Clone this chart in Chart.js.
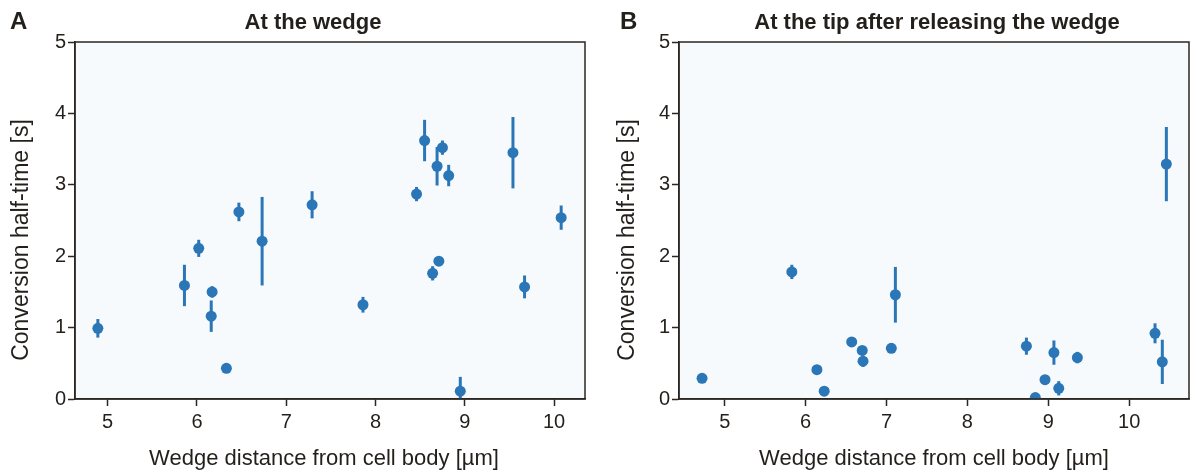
<!DOCTYPE html>
<html>
<head>
<meta charset="utf-8">
<script src="https://cdn.jsdelivr.net/npm/chart.js@4/dist/chart.umd.min.js"></script>
<style>
  body { margin: 0; background: #fff; }
  #wrap { position: relative; width: 1190px; height: 476px; }
  .panel { position: absolute; top: 0; height: 476px; width: 595px; }
</style>
</head>
<body>
<div id="wrap">
  <div class="panel" style="left:0"><canvas id="chartA" width="595" height="476"></canvas></div>
  <div class="panel" style="left:595px"><canvas id="chartB" width="595" height="476"></canvas></div>
</div>
<script>
// panel A - at the wedge
var distA = [4.89, 5.86, 6.02, 6.17, 6.16, 6.33, 6.47, 6.73, 7.29, 7.86, 8.46, 8.55, 8.75, 8.69, 8.82, 8.64, 8.71, 8.95, 9.54, 9.67, 10.08];
var halfA = [0.99, 1.59, 2.11, 1.50, 1.16, 0.43, 2.62, 2.21, 2.72, 1.32, 2.87, 3.62, 3.52, 3.26, 3.13, 1.76, 1.93, 0.11, 3.45, 1.57, 2.54];
var errA  = [0.13, 0.29, 0.12, 0.08, 0.22, 0.03, 0.13, 0.62, 0.19, 0.11, 0.10, 0.29, 0.10, 0.27, 0.15, 0.10, 0.05, 0.20, 0.50, 0.16, 0.17];

// panel B - at the tip after releasing the wedge
var distB = [4.72, 5.83, 6.14, 6.23, 6.57, 6.70, 6.71, 7.06, 7.11, 8.73, 8.84, 8.96, 9.07, 9.13, 9.36, 10.32, 10.41, 10.46];
var halfB = [0.29, 1.78, 0.41, 0.11, 0.80, 0.68, 0.53, 0.71, 1.46, 0.74, 0.02, 0.27, 0.65, 0.15, 0.58, 0.92, 0.52, 3.29];
var errB  = [0.02, 0.10, 0.03, 0.02, 0.03, 0.05, 0.08, 0.02, 0.39, 0.12, 0.03, 0.04, 0.17, 0.10, 0.08, 0.14, 0.31, 0.52];

var xTicks = [5, 6, 7, 8, 9, 10];
var yTicks = [0, 1, 2, 3, 4, 5];

var blue = "#2a76b6";
var ink = "#2b2620";
var fontFam = "'Liberation Sans', Arial, Helvetica, sans-serif";

//error bars + frame + texts
var panelPlugin = {
    id: "panel",
    beforeDraw: function(chart){
        var a = chart.chartArea, c = chart.ctx;
        c.save();
        c.fillStyle = "#f7fafd";
        c.fillRect(a.left, a.top, a.right - a.left, a.bottom - a.top);
        c.restore();
    },
    beforeDatasetsDraw: function(chart){
        var o = chart.options.plugins.panel;
        var a = chart.chartArea, c = chart.ctx;
        var xs = chart.scales.x, ys = chart.scales.y;
        c.save();
        c.beginPath();
        c.rect(a.left, a.top, a.right - a.left, a.bottom - a.top);
        c.clip();
        c.strokeStyle = blue;
        c.lineWidth = 3;
        for (var i = 0; i < o.dist.length; i++){
            var px = xs.getPixelForValue(o.dist[i]);
            c.beginPath();
            c.moveTo(px, ys.getPixelForValue(o.half[i] - o.err[i]));
            c.lineTo(px, ys.getPixelForValue(o.half[i] + o.err[i]));
            c.stroke();
        }
        c.restore();
    },
    afterDraw: function(chart){
        var o = chart.options.plugins.panel;
        var a = chart.chartArea, c = chart.ctx;
        c.save();
        c.strokeStyle = ink;
        c.lineWidth = 1.5;
        c.strokeRect(a.left, a.top, a.right - a.left, a.bottom - a.top);
        c.fillStyle = "#231f1b";
        c.textBaseline = "alphabetic";
        c.font = "bold 24px " + fontFam;
        c.textAlign = "left";
        c.fillText(o.letter, o.letterX, 29);
        c.font = "bold 22px " + fontFam;
        c.textAlign = "center";
        c.fillText(o.title, o.titleX, 29);
        c.font = "22px " + fontFam;
        c.fillText("Wedge distance from cell body [\u00b5m]", (a.left + a.right) / 2 + o.xLabelShift, 465);
        c.font = "23px " + fontFam;
        c.translate(o.yLabelX, 240);
        c.rotate(-Math.PI / 2);
        c.textBaseline = "middle";
        c.fillText("Conversion half-time [s]", 0, 0);
        c.restore();
    }
};

function makePanel(id, dist, half, err, xmin, xmax, yWidth, padRight, letter, letterX, title, titleX, yLabelX, xLabelShift){
    var ctx = document.getElementById(id).getContext("2d");
    var pts = dist.map(function(d, i){ return {x: d, y: half[i]}; });
    return new Chart(ctx, {
        type: "scatter",
        data: {
            datasets: [{
                data: pts,
                backgroundColor: blue,
                borderColor: blue,
                borderWidth: 0,
                pointRadius: 5.5,
                pointHoverRadius: 5.5,
                clip: 0
            }]
        },
        options: {
            responsive: false,
            animation: false,
            layout: { autoPadding: false, padding: { top: 42, right: padRight, left: 0, bottom: 0 } },
            plugins: {
                legend: { display: false },
                tooltip: { enabled: false },
                panel: {
                    dist: dist, half: half, err: err,
                    letter: letter, letterX: letterX,
                    title: title, titleX: titleX, yLabelX: yLabelX, xLabelShift: xLabelShift
                }
            },
            scales: {
                x: {
                    type: "linear",
                    min: xmin,
                    max: xmax,
                    afterBuildTicks: function(s){ s.ticks = xTicks.map(function(v){ return {value: v}; }); },
                    afterFit: function(s){ s.height = 77; s.paddingLeft = 0; s.paddingRight = 0; },
                    grid: { drawOnChartArea: false, drawTicks: true, tickLength: 7, tickColor: ink, tickWidth: 1.5 },
                    border: { display: true, color: ink, width: 1.5 },
                    ticks: { color: "#231f1b", font: { family: fontFam, size: 20 }, padding: 4, maxRotation: 0 }
                },
                y: {
                    type: "linear",
                    min: 0,
                    max: 5,
                    afterBuildTicks: function(s){ s.ticks = yTicks.map(function(v){ return {value: v}; }); },
                    afterFit: function(s){ s.width = yWidth; s.paddingTop = 0; s.paddingBottom = 0; },
                    grid: { drawOnChartArea: false, drawTicks: true, tickLength: 7, tickColor: ink, tickWidth: 1.5 },
                    border: { display: true, color: ink, width: 1.5 },
                    ticks: { color: "#231f1b", font: { family: fontFam, size: 20 }, padding: 2 }
                }
            }
        },
        plugins: [panelPlugin]
    });
}//End makePanel

makePanel("chartA", distA, halfA, errA, 4.634, 10.347, 75, 10, "A", 10, "At the wedge", 313, 22, -6);
makePanel("chartB", distB, halfB, errB, 4.435, 10.74, 84, 1, "B", 25, "At the tip after releasing the wedge", 342, 33, 0);
</script>
</body>
</html>
